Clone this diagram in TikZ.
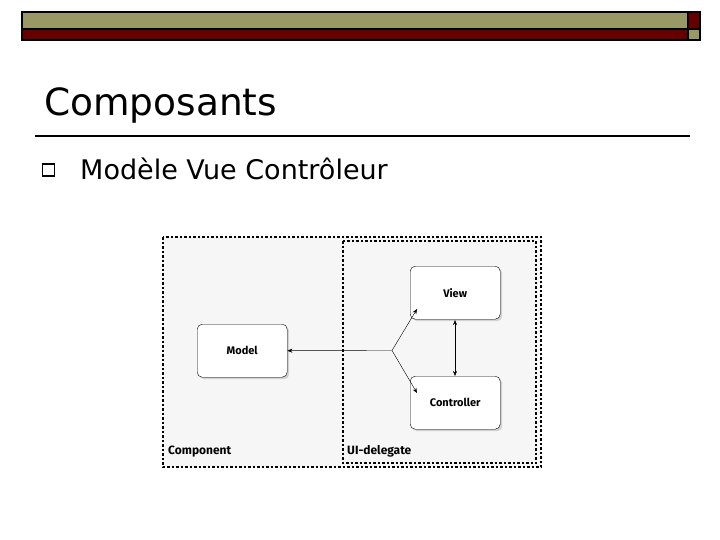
\documentclass[tikz,border=0pt]{standalone}
\usepackage{fontspec}
\setmainfont{DejaVu Sans}
\newfontfamily\lblfont{Fira Sans}
\definecolor{olive}{RGB}{153,153,102}
\definecolor{maroon}{RGB}{102,0,0}
\definecolor{panel}{RGB}{246,246,246}
\usetikzlibrary{arrows.meta,shadows}
\begin{document}
\begin{tikzpicture}[x=1pt,y=-1pt,
  box/.style={draw,thin,rounded corners=5pt,fill=white,minimum width=90pt,minimum height=53pt,anchor=north west,drop shadow={shadow xshift=2pt,shadow yshift=-2pt,opacity=0.3},font=\lblfont\bfseries\fontsize{11}{13}\selectfont},
  dashbox/.style={draw,line width=1.3pt,dash pattern=on 2.5pt off 2pt},
  arr/.style={-{Stealth[length=5pt,width=4pt]},thin}]
\useasboundingbox (0,0) rectangle (720,540);
\fill[white] (0,0) rectangle (720,540);
% header bars
\filldraw[fill=olive,line width=1.2pt] (22,12) rectangle (688,29);
\filldraw[fill=maroon,line width=1.2pt] (688,12) rectangle (700,29);
\filldraw[fill=maroon,line width=1.2pt] (22,29) rectangle (688,40);
\filldraw[fill=olive,line width=1.2pt] (688,29) rectangle (700,40);
% title
\node[anchor=base west,inner sep=0,font=\fontsize{37.5}{44}\selectfont] (title) at (44,116) {Composants};
\draw[line width=1.2pt] (35,136) -- (690,136);
\node[draw,line width=1.1pt,minimum size=12pt,inner sep=0] (bul) at (48.5,170) {};
\node[anchor=base west,inner sep=0,font=\fontsize{27}{32}\selectfont] (item) at (80,180) {Modèle Vue Contrôleur};
% diagram
\fill[panel] (163,237) rectangle (541,467);
\draw[dashbox] (163,237) rectangle (541,467);
\draw[dashbox] (343,241) rectangle (536,463);
\node[box] (model) at (197,324) {Model};
\node[box] (view) at (410,266) {View};
\node[box] (ctrl) at (410,376) {Controller};
\coordinate (j) at (392,350.5);
\draw[arr] (j) -- (model.east);
\draw[arr] (j) -- (417,309);
\draw[arr] (j) -- (417,393);
\draw[{Stealth[length=5pt,width=4pt]}-{Stealth[length=5pt,width=4pt]},thin] (455,320) -- (455,376);
\node[anchor=base west,inner sep=0,font=\lblfont\bfseries\fontsize{12}{14}\selectfont] (comp) at (168,454) {Component};
\node[anchor=base west,inner sep=0,font=\lblfont\bfseries\fontsize{12}{14}\selectfont] (ui) at (347,454) {UI-delegate};
\end{tikzpicture}
\end{document}
